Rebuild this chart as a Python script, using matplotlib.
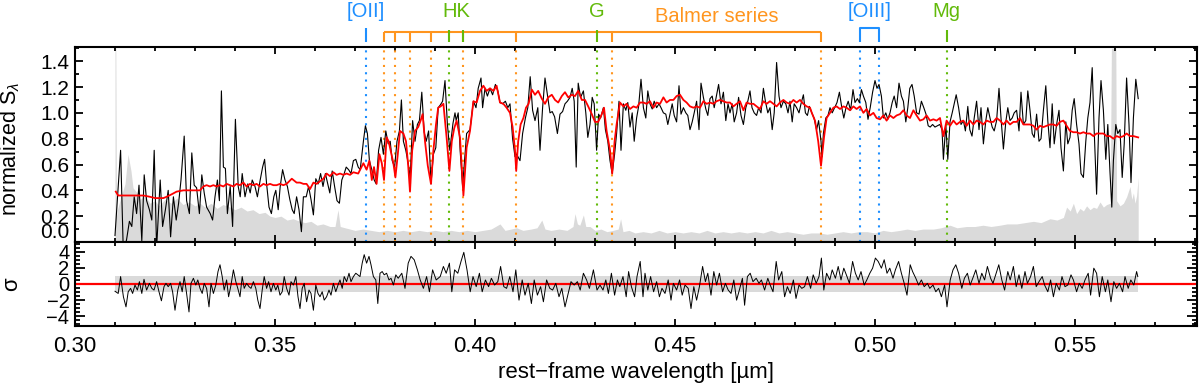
import matplotlib
matplotlib.use('Agg')
import numpy as np
import matplotlib.pyplot as plt
import matplotlib.transforms as mtransforms
from matplotlib.ticker import MultipleLocator, FormatStrFormatter

# observed spectrum, rest-frame wavelength [nm] / normalized flux
spec_wl = [310.0, 311.4, 312.1, 312.9, 313.6, 314.2, 314.8, 315.4, 316.0, 316.7, 317.3, 317.9, 318.6, 319.2, 319.8,
           320.4, 321.3, 321.9, 322.6, 323.3, 323.9, 324.6, 325.3, 325.9, 326.5, 327.3, 327.9, 328.6, 329.2, 329.8,
           330.4, 331.1, 331.7, 332.3, 332.9, 333.8, 334.4, 335.0, 335.6, 336.1, 336.6, 337.1, 337.6, 338.1, 338.8,
           339.4, 340.1, 340.8, 341.3, 341.8, 342.5, 343.2, 343.8, 344.3, 345.0, 345.6, 346.3, 346.9, 347.4, 347.9,
           348.5, 349.1, 349.7, 350.2, 350.8, 351.3, 351.9, 352.5, 353.1, 353.7, 354.3, 354.8, 355.4, 356.0, 356.6,
           357.1, 357.8, 358.4, 359.0, 359.6, 360.2, 360.8, 361.4, 362.0, 362.6, 363.2, 363.7, 364.3, 364.9, 365.5,
           366.1, 366.7, 367.3, 367.8, 368.4, 369.0, 369.6, 370.2, 370.8, 371.3, 372.1, 372.6, 373.1, 373.6, 374.2,
           374.8, 375.3, 375.9, 376.5, 377.1, 377.7, 378.3, 378.8, 379.3, 379.9, 380.5, 381.1, 381.6, 382.1, 382.7,
           383.3, 383.8, 384.4, 385.0, 385.6, 386.1, 386.7, 387.3, 387.8, 388.4, 389.0, 389.6, 390.2, 390.8, 391.3,
           391.9, 392.5, 393.1, 393.7, 394.5, 395.0, 395.3, 395.8, 396.3, 396.9, 397.9, 398.75, 399.6, 400.25, 400.8,
           401.5, 401.9, 402.5, 403.1, 403.75, 404.4, 405.1, 405.7, 406.25, 406.9, 407.6, 408.2, 408.75, 409.4, 410.0,
           410.4, 411.25, 411.9, 412.6, 413.2, 413.8, 414.4, 415.0, 415.7, 416.25, 416.9, 417.5, 418.1, 418.75, 419.3,
           419.9, 420.6, 421.25, 421.9, 422.5, 423.1, 423.75, 424.3, 424.8, 425.3, 425.8, 426.4, 427.1, 427.7, 428.2,
           428.75, 429.3, 429.8, 430.4, 430.9, 431.4, 432.1, 432.6, 433.2, 433.75, 434.3, 434.9, 435.4, 436.0, 436.5,
           437.1, 437.7, 438.2, 438.75, 439.3, 439.8, 440.4, 440.9, 441.5, 442.1, 442.7, 443.2, 443.75, 444.3, 444.8,
           445.4, 446.0, 446.5, 447.1, 447.7, 448.2, 448.75, 449.3, 449.8, 450.4, 451.0, 451.5, 452.1, 452.7, 453.2,
           453.75, 454.3, 454.8, 455.4, 456.0, 456.5, 457.1, 457.7, 458.2, 458.75, 459.3, 459.8, 460.4, 460.9, 461.5,
           462.1, 462.7, 463.25, 463.75, 464.3, 464.8, 465.4, 465.9, 466.5, 467.1, 467.7, 468.2, 468.75, 469.25, 469.8,
           470.4, 470.9, 471.5, 472.1, 472.6, 473.2, 473.75, 474.3, 474.8, 475.4, 476.0, 476.5, 477.1, 477.7, 478.25,
           478.75, 479.3, 479.8, 480.4, 481.0, 481.5, 482.1, 482.6, 483.1, 483.6, 484.2, 484.75, 485.4, 485.9, 486.5,
           486.75, 487.1, 487.7, 488.25, 488.75, 489.3, 489.9, 490.5, 491.1, 491.7, 492.2, 492.75, 493.3, 493.9, 494.5,
           495.0, 495.6, 496.1, 496.6, 497.1, 497.7, 498.25, 498.8, 499.4, 500.0, 500.5, 501.0, 501.6, 502.1, 502.7,
           503.2, 503.75, 504.3, 504.8, 505.4, 506.0, 506.6, 507.1, 507.7, 508.2, 508.7, 509.25, 509.8, 510.4, 511.0,
           511.6, 512.2, 512.75, 513.3, 513.8, 514.4, 515.0, 515.6, 516.2, 516.75, 517.1, 517.7, 518.2, 518.75, 519.3,
           519.8, 520.3, 520.9, 521.5, 522.1, 522.6, 523.2, 523.7, 524.25, 524.8, 525.4, 526.0, 526.5, 527.1, 527.7,
           528.2, 528.75, 529.3, 529.8, 530.4, 531.0, 531.5, 532.1, 532.7, 533.2, 533.75, 534.3, 534.8, 535.4, 536.0,
           536.5, 537.1, 537.7, 538.2, 538.75, 539.3, 539.8, 540.4, 541.0, 541.5, 542.1, 542.7, 543.2, 543.75, 544.3,
           544.8, 545.4, 546.0, 546.5, 547.1, 547.7, 548.2, 548.75, 549.3, 549.8, 550.4, 551.0, 551.5, 552.1, 552.7,
           553.2, 553.75, 554.3, 554.8, 555.4, 556.0, 556.5, 557.1, 557.7, 558.2, 558.75, 559.2, 559.6, 560.2, 560.7,
           561.25, 561.8, 562.3, 562.9, 563.5, 564.0, 564.6, 565.2, 565.8]
spec_flux = [0.05, 0.71, -0.10, 0.02, 0.16, 0.12, 0.35, 0.22, 0.44, 0.01, 0.52, 0.32, 0.25, 0.17, 0.71,
             -0.05, 0.48, 0.12, 0.25, 0.40, 0.04, 0.35, 0.17, 0.30, 0.48, 0.82, 0.32, 0.22, 0.69, 0.44,
             0.42, 0.22, 0.52, 0.38, 0.27, 0.22, 0.17, 0.35, 0.48, 0.32, 1.17, 0.58, 0.57, 0.22, 0.43,
             0.12, 0.95, 0.43, 0.35, 0.53, 0.35, 0.45, 0.38, 0.48, 0.43, 0.35, 0.48, 0.58, 0.64, 0.45,
             0.27, 0.22, 0.35, 0.40, 0.25, 0.43, 0.56, 0.48, 0.43, 0.33, 0.25, 0.22, 0.35, 0.25, 0.08,
             0.35, 0.35, 0.43, 0.33, 0.21, 0.49, 0.45, 0.53, 0.43, 0.53, 0.45, 0.38, 0.55, 0.43, 0.32,
             0.30, 0.48, 0.53, 0.58, 0.56, 0.53, 0.63, 0.64, 0.58, 0.56, 0.78, 0.90, 0.84, 0.63, 0.56,
             0.48, 0.45, 0.71, 0.81, 0.68, 0.86, 0.76, 0.78, 0.63, 0.58, 0.78, 0.86, 1.10, 0.78, 0.71,
             0.61, 0.50, 0.94, 0.78, 0.91, 0.94, 1.16, 0.85, 0.78, 0.86, 0.45, 0.68, 0.73, 1.04, 1.06,
             1.09, 1.25, 0.91, 0.71, 0.92, 1.00, 0.94, 1.00, 0.70, 0.43, 0.84, 0.87, 1.09, 1.04, 1.19,
             1.27, 1.04, 1.19, 1.13, 1.19, 1.14, 1.22, 1.17, 1.08, 1.07, 1.09, 1.04, 1.07, 0.80, 0.66,
             0.68, 0.63, 0.84, 0.96, 1.04, 1.28, 1.02, 0.94, 1.04, 0.71, 1.04, 1.27, 1.14, 1.00, 1.01,
             0.97, 0.84, 0.99, 1.01, 1.07, 1.09, 1.12, 1.19, 1.09, 0.58, 1.23, 1.12, 1.17, 1.00, 0.81,
             0.91, 1.12, 1.07, 0.71, 0.99, 0.96, 1.04, 0.87, 0.78, 0.63, 0.53, 0.68, 0.84, 1.09, 0.71,
             1.07, 1.02, 1.08, 0.89, 1.00, 0.78, 0.96, 1.05, 1.26, 1.04, 0.96, 1.17, 1.07, 1.03, 1.09,
             1.04, 1.07, 1.04, 1.00, 0.99, 0.91, 0.99, 1.07, 0.98, 0.93, 1.21, 0.99, 1.04, 1.00, 0.98,
             0.87, 0.93, 1.00, 1.09, 0.87, 1.23, 1.12, 1.03, 0.98, 1.11, 1.13, 1.04, 1.14, 1.22, 1.07,
             1.16, 0.94, 1.07, 1.00, 1.07, 0.93, 1.00, 1.12, 0.98, 0.91, 1.04, 1.09, 1.17, 1.04, 1.00,
             0.98, 1.04, 1.00, 1.19, 1.09, 1.00, 1.04, 0.87, 1.00, 1.39, 1.13, 1.04, 1.09, 1.07, 1.00,
             1.09, 0.93, 1.07, 1.04, 1.00, 1.07, 1.14, 1.00, 0.98, 1.05, 1.00, 0.96, 0.87, 0.94, 0.78,
             0.66, 0.84, 0.96, 0.98, 1.04, 1.00, 1.04, 1.08, 1.16, 1.04, 0.96, 1.04, 1.09, 1.02, 1.18,
             1.08, 1.11, 1.08, 1.18, 1.13, 1.08, 0.95, 1.04, 1.16, 1.25, 1.19, 1.22, 1.13, 0.96, 1.00,
             0.95, 1.00, 1.08, 1.13, 1.04, 1.23, 1.13, 1.09, 0.93, 1.04, 1.19, 1.22, 1.13, 1.00, 0.99,
             1.09, 1.04, 0.99, 0.90, 0.89, 0.91, 0.89, 0.90, 0.91, 0.87, 0.64, 0.91, 0.64, 0.93, 1.00,
             1.07, 1.14, 1.04, 0.91, 0.94, 0.86, 1.05, 0.87, 0.82, 0.96, 1.09, 0.87, 1.04, 0.76, 0.94,
             1.04, 0.96, 0.89, 0.86, 0.94, 1.19, 0.96, 0.72, 0.93, 1.04, 0.94, 0.96, 1.00, 1.02, 0.86,
             1.16, 0.91, 0.94, 1.17, 1.02, 0.84, 0.81, 0.99, 0.78, 0.80, 1.02, 1.21, 0.94, 0.73, 1.07,
             0.76, 0.91, 1.02, 0.73, 0.55, 0.93, 0.76, 0.81, 1.02, 1.11, 0.91, 0.76, 0.53, 0.50, 0.78,
             0.96, 1.08, 1.35, 0.86, 0.37, 0.96, 1.25, 1.02, 0.64, 0.91, 0.54, 0.27, 0.63, 0.91, 0.84,
             0.87, 0.50, 0.76, 1.27, 0.91, 0.46, 0.96, 1.26, 1.11]

# best-fit model
model_wl = [310.2, 310.8, 312.9, 317.1, 318.75, 320.0, 322.1, 322.9, 324.2, 325.4, 327.1, 329.6, 331.25, 332.1,
            332.9, 333.75, 334.6, 335.4, 336.25, 337.1, 337.9, 338.75, 339.6, 340.4, 341.25, 342.1, 342.9, 343.75,
            344.6, 345.4, 346.25, 347.1, 347.9, 348.75, 349.6, 350.4, 351.25, 352.1, 352.9, 354.2, 355.4, 356.25,
            357.1, 357.9, 358.75, 359.6, 360.4, 362.1, 362.9, 363.75, 364.6, 365.4, 366.25, 367.1, 367.9, 368.75,
            369.6, 370.8, 372.1, 372.9, 373.6, 374.2, 374.75, 375.4, 376.1, 376.7, 377.25, 377.9, 378.4, 378.9,
            379.6, 380.1, 380.7, 381.25, 382.1, 382.75, 383.3, 383.75, 384.3, 385.0, 385.8, 386.4, 386.9, 387.5,
            388.2, 389.0, 389.6, 390.25, 390.8, 391.4, 392.1, 392.9, 393.6, 394.2, 394.8, 395.4, 396.25, 397.1,
            397.9, 398.75, 399.6, 400.4, 401.25, 402.1, 402.9, 403.75, 404.6, 405.4, 406.25, 407.1, 407.9, 408.75,
            409.4, 410.0, 410.3, 410.8, 411.4, 412.1, 412.75, 413.4, 414.2, 415.0, 415.8, 416.7, 417.5, 418.3,
            419.2, 420.0, 420.8, 421.7, 422.5, 423.3, 424.2, 425.0, 425.8, 426.7, 427.5, 428.3, 429.2, 430.0,
            430.8, 431.7, 432.25, 432.9, 433.75, 434.3, 434.9, 435.4, 436.25, 437.1, 437.9, 438.75, 439.6, 440.4,
            441.25, 442.1, 442.9, 443.75, 444.6, 445.4, 446.25, 447.1, 447.9, 448.75, 449.6, 450.4, 451.25, 452.1,
            452.9, 453.75, 454.6, 455.4, 456.25, 457.1, 457.9, 458.75, 459.6, 460.4, 461.25, 462.1, 462.9, 463.75,
            464.6, 465.4, 466.25, 467.1, 467.9, 468.75, 469.6, 470.4, 471.25, 472.1, 472.9, 473.75, 474.6, 475.4,
            476.25, 477.1, 477.9, 478.75, 479.6, 480.4, 481.25, 482.1, 482.9, 483.75, 484.2, 485.0, 485.8, 486.5,
            487.25, 487.9, 488.75, 489.6, 490.4, 491.25, 492.1, 492.9, 493.75, 494.6, 495.4, 496.25, 497.1, 497.9,
            498.75, 499.6, 500.4, 501.25, 502.1, 502.9, 503.75, 504.6, 505.4, 506.25, 507.1, 507.9, 508.75, 509.6,
            510.4, 511.25, 512.1, 512.9, 513.75, 514.6, 515.4, 516.25, 517.1, 517.9, 518.75, 519.6, 520.4, 521.25,
            522.1, 522.9, 523.75, 524.6, 525.4, 526.25, 527.1, 527.9, 528.75, 529.6, 530.4, 531.25, 532.1, 532.9,
            533.75, 534.6, 535.4, 536.25, 537.1, 537.9, 538.75, 539.6, 540.4, 541.25, 542.1, 542.9, 543.75, 544.6,
            545.4, 546.25, 547.1, 547.9, 548.75, 549.6, 550.4, 551.25, 552.1, 552.9, 553.75, 554.6, 555.4, 556.25,
            557.1, 557.9, 558.75, 559.6, 560.4, 561.25, 562.1, 562.9, 563.75, 564.6, 565.8]
model_flux = [0.39, 0.36, 0.36, 0.36, 0.35, 0.34, 0.34, 0.35, 0.37, 0.39, 0.40, 0.40, 0.40, 0.43,
              0.44, 0.43, 0.44, 0.43, 0.44, 0.43, 0.45, 0.44, 0.43, 0.45, 0.44, 0.46, 0.43, 0.45,
              0.44, 0.45, 0.43, 0.45, 0.44, 0.45, 0.44, 0.44, 0.45, 0.44, 0.45, 0.49, 0.46, 0.46,
              0.45, 0.45, 0.41, 0.46, 0.45, 0.49, 0.53, 0.51, 0.54, 0.52, 0.53, 0.52, 0.53, 0.52,
              0.54, 0.53, 0.61, 0.56, 0.63, 0.48, 0.58, 0.45, 0.68, 0.61, 0.48, 0.81, 0.78, 0.71,
              0.61, 0.50, 0.68, 0.86, 0.84, 0.78, 0.59, 0.39, 0.71, 0.86, 0.89, 0.94, 0.99, 0.78,
              0.59, 0.45, 0.71, 0.91, 1.04, 1.05, 1.07, 0.81, 0.55, 0.78, 0.88, 0.94, 0.81, 0.36,
              0.73, 0.86, 1.09, 1.08, 1.17, 1.21, 1.17, 1.19, 1.17, 1.21, 1.08, 1.07, 1.04, 1.00,
              0.89, 0.71, 0.55, 0.78, 0.91, 0.96, 1.04, 1.07, 1.18, 1.14, 1.17, 1.11, 1.07, 1.12,
              1.14, 1.10, 1.08, 1.13, 1.16, 1.12, 1.14, 1.13, 1.17, 1.10, 1.10, 1.05, 0.99, 0.93,
              0.93, 0.99, 1.04, 0.86, 0.71, 0.53, 0.78, 0.91, 1.08, 1.05, 1.07, 1.03, 1.05, 1.04,
              1.08, 1.08, 1.07, 1.09, 1.04, 1.08, 1.07, 1.12, 1.08, 1.10, 1.10, 1.13, 1.14, 1.10,
              1.08, 1.05, 1.04, 1.05, 1.04, 1.09, 1.07, 1.08, 1.07, 1.09, 1.10, 1.09, 1.08, 1.08,
              1.05, 1.07, 1.09, 1.02, 1.08, 1.07, 1.07, 1.05, 1.03, 1.09, 1.07, 1.09, 1.07, 1.05,
              1.08, 1.10, 1.08, 1.07, 1.10, 1.08, 1.10, 1.07, 1.05, 1.04, 1.00, 0.94, 0.78, 0.59,
              0.81, 0.96, 1.00, 1.04, 1.05, 1.03, 1.05, 1.04, 1.02, 1.05, 1.03, 1.05, 1.00, 1.03,
              0.98, 1.00, 0.96, 0.95, 0.98, 0.94, 0.98, 0.96, 0.98, 0.99, 1.02, 0.98, 0.96, 1.02,
              0.98, 0.94, 0.95, 0.98, 0.94, 0.95, 0.94, 0.96, 0.82, 0.94, 0.90, 0.94, 0.91, 0.93,
              0.94, 0.90, 0.94, 0.91, 0.94, 0.93, 0.91, 0.94, 0.93, 0.93, 0.96, 0.94, 0.91, 0.94,
              0.91, 0.93, 0.93, 0.96, 0.91, 0.91, 0.91, 0.90, 0.87, 0.90, 0.89, 0.90, 0.91, 0.91,
              0.90, 0.93, 0.94, 0.90, 0.86, 0.85, 0.85, 0.84, 0.85, 0.84, 0.84, 0.82, 0.84, 0.84,
              0.84, 0.82, 0.82, 0.80, 0.82, 0.81, 0.82, 0.84, 0.82, 0.82, 0.81]

# 1-sigma noise (grey)
err_wl = [310.0, 310.2, 310.4, 310.6, 311.5, 312.5, 313.25, 314.0, 314.5, 315.5, 316.25, 317.5, 318.75, 320.0,
          321.0, 322.5, 324.0, 325.5, 327.0, 328.5, 330.0, 331.25, 332.5, 334.0, 335.5, 337.0, 338.75, 340.0,
          341.5, 343.0, 344.5, 346.0, 347.5, 348.75, 350.0, 351.5, 353.0, 354.5, 356.25, 357.5, 359.0, 360.5,
          362.0, 363.75, 365.0, 365.75, 366.3, 367.5, 368.75, 370.0, 372.0, 374.0, 376.0, 378.0, 380.0, 382.0,
          384.0, 386.0, 388.0, 390.0, 392.0, 394.0, 396.0, 398.0, 400.0, 402.0, 404.0, 406.25, 407.5, 409.0,
          410.4, 412.0, 414.0, 415.5, 416.7, 417.5, 419.0, 421.0, 423.0, 424.5, 425.0, 425.6, 426.2, 427.1,
          427.7, 428.75, 430.0, 431.5, 433.0, 434.5, 435.8, 436.4, 437.0, 438.5, 440.0, 442.0, 444.0, 446.0,
          448.0, 450.0, 452.0, 454.0, 456.0, 458.0, 460.0, 462.0, 464.0, 466.0, 468.0, 470.0, 472.0, 474.0,
          476.0, 478.0, 480.0, 482.0, 484.0, 486.0, 488.0, 490.0, 492.0, 494.0, 496.0, 498.0, 500.0, 502.0,
          504.0, 506.25, 508.0, 510.0, 512.0, 514.6, 516.5, 518.75, 520.5, 522.9, 525.0, 527.0, 529.0, 531.25,
          533.0, 535.4, 537.5, 539.6, 541.5, 543.75, 545.5, 547.1, 547.9, 548.8, 549.6, 550.4, 551.25, 552.1,
          552.9, 553.75, 554.6, 555.4, 556.25, 557.1, 557.9, 558.8, 559.1, 560.2, 560.4, 561.25, 562.1, 562.9,
          563.75, 564.2, 564.6, 565.0, 565.4, 565.8]
err_flux = [1.50, 1.50, 0.20, 0.25, 0.35, 0.45, 0.68, 0.55, 0.42, 0.38, 0.33, 0.36, 0.30, 0.32,
            0.28, 0.33, 0.30, 0.34, 0.29, 0.31, 0.28, 0.30, 0.27, 0.30, 0.26, 0.29, 0.27, 0.25,
            0.27, 0.24, 0.25, 0.22, 0.23, 0.20, 0.19, 0.20, 0.17, 0.18, 0.16, 0.15, 0.16, 0.13,
            0.14, 0.12, 0.12, 0.25, 0.12, 0.11, 0.10, 0.09, 0.10, 0.09, 0.08, 0.09, 0.08, 0.09,
            0.08, 0.09, 0.08, 0.09, 0.08, 0.09, 0.08, 0.09, 0.08, 0.09, 0.10, 0.14, 0.09, 0.10,
            0.11, 0.09, 0.10, 0.11, 0.17, 0.10, 0.09, 0.10, 0.09, 0.12, 0.22, 0.14, 0.13, 0.21,
            0.12, 0.12, 0.09, 0.10, 0.08, 0.09, 0.10, 0.18, 0.08, 0.09, 0.07, 0.08, 0.07, 0.09,
            0.07, 0.08, 0.07, 0.08, 0.07, 0.09, 0.07, 0.08, 0.07, 0.08, 0.07, 0.08, 0.07, 0.09,
            0.07, 0.08, 0.07, 0.06, 0.07, 0.07, 0.06, 0.07, 0.08, 0.07, 0.08, 0.08, 0.07, 0.09,
            0.08, 0.09, 0.10, 0.09, 0.10, 0.10, 0.11, 0.13, 0.11, 0.12, 0.12, 0.13, 0.12, 0.13,
            0.14, 0.14, 0.15, 0.16, 0.15, 0.18, 0.17, 0.19, 0.27, 0.24, 0.30, 0.22, 0.26, 0.24,
            0.28, 0.25, 0.27, 0.26, 0.31, 0.27, 0.29, 0.30, 1.50, 1.50, 0.32, 0.28, 0.30, 0.35,
            0.43, 0.33, 0.38, 0.30, 0.36, 0.50]

# residuals in units of sigma
resid_wl = [310.0, 310.8, 311.4, 312.1, 312.75, 313.3, 313.9, 314.4, 315.0, 315.6, 316.1, 316.7, 317.25, 317.9,
            318.6, 319.2, 319.75, 320.4, 321.0, 321.6, 322.25, 322.75, 323.3, 323.9, 324.4, 325.0, 325.7, 326.25,
            326.8, 327.3, 327.9, 328.5, 329.0, 329.6, 330.2, 330.7, 331.25, 331.8, 332.3, 332.9, 333.5, 334.0,
            334.6, 335.2, 335.75, 336.25, 336.8, 337.3, 337.9, 338.4, 339.0, 339.6, 340.2, 340.7, 341.25, 341.8,
            342.3, 342.9, 343.5, 344.0, 344.6, 345.2, 345.7, 346.25, 346.8, 347.3, 347.9, 348.4, 349.0, 349.6,
            350.2, 350.7, 351.25, 351.8, 352.3, 352.9, 353.5, 354.0, 354.6, 355.2, 355.75, 356.25, 356.8, 357.3,
            357.9, 358.5, 359.0, 359.6, 360.2, 360.75, 361.25, 361.8, 362.3, 362.9, 363.5, 364.0, 364.6, 365.2,
            365.75, 366.25, 366.8, 367.3, 367.9, 368.5, 369.0, 369.6, 370.2, 370.7, 371.25, 371.8, 372.3, 372.9,
            373.5, 374.0, 374.6, 375.2, 375.7, 376.25, 376.8, 377.3, 377.9, 378.5, 379.0, 379.6, 380.2, 380.8,
            381.7, 382.5, 383.3, 384.0, 384.8, 385.6, 386.3, 387.1, 387.9, 388.6, 389.4, 390.3, 391.3, 392.1,
            392.8, 393.6, 394.2, 394.9, 395.7, 396.5, 397.2, 398.0, 398.8, 399.5, 400.3, 401.1, 401.8, 402.6,
            403.4, 404.1, 404.9, 405.7, 406.4, 407.2, 407.9, 408.7, 409.5, 410.2, 411.0, 411.8, 412.5, 413.3,
            414.1, 414.8, 415.6, 416.4, 417.1, 417.9, 418.7, 419.4, 420.2, 421.0, 421.7, 422.5, 423.3, 424.0,
            424.8, 425.6, 426.3, 427.1, 427.9, 428.6, 429.6, 430.5, 431.25, 432.0, 432.7, 433.35, 434.1, 434.9,
            435.6, 436.2, 437.0, 437.8, 438.4, 439.1, 439.9, 440.5, 441.3, 442.0, 442.5, 443.2, 443.9, 444.65,
            445.4, 446.1, 446.75, 447.5, 448.3, 449.0, 449.6, 450.4, 451.15, 451.8, 452.5, 453.3, 454.0, 454.7,
            455.4, 456.1, 456.9, 457.6, 458.2, 459.0, 459.7, 460.4, 461.1, 461.9, 462.6, 463.3, 464.0, 464.7,
            465.4, 466.2, 466.85, 467.4, 468.1, 468.8, 469.5, 470.3, 471.0, 471.6, 472.4, 473.2, 473.8, 474.5,
            475.3, 475.9, 476.7, 477.4, 478.1, 478.8, 479.6, 480.25, 481.0, 481.7, 482.4, 483.1, 483.9, 484.55,
            485.3, 486.0, 486.6, 487.2, 487.9, 488.7, 489.3, 490.1, 490.8, 491.5, 492.2, 493.0, 493.6, 494.4,
            495.1, 495.8, 496.5, 497.3, 497.95, 498.7, 499.4, 500.1, 500.8, 501.6, 502.3, 503.0, 503.7, 504.5,
            505.1, 505.9, 506.6, 507.3, 508.0, 508.8, 509.4, 510.2, 510.9, 511.6, 512.3, 513.1, 513.7, 514.5,
            515.2, 515.9, 516.6, 517.4, 518.0, 518.8, 519.5, 520.2, 520.9, 521.7, 522.35, 523.1, 523.8, 524.6,
            525.2, 526.0, 526.7, 527.4, 528.1, 528.9, 529.5, 530.3, 530.95, 531.7, 532.4, 533.2, 533.8, 534.6,
            535.3, 536.0, 536.7, 537.5, 538.1, 538.9, 539.6, 540.3, 541.0, 541.8, 542.4, 543.2, 543.9, 544.6,
            545.3, 546.1, 546.75, 547.5, 548.2, 549.0, 549.6, 550.4, 551.05, 551.8, 552.5, 553.3, 553.9, 554.7,
            555.4, 556.1, 556.8, 557.6, 558.2, 559.0, 559.7, 560.4, 561.1, 561.9, 562.5, 563.3, 563.95, 564.7,
            565.4, 565.7]
resid = [-0.9, -1.17, 0.92, -1.58, -2.83, -0.96, -0.54, -1.17, -0.13, -0.75, 0.29, -1.17, 0.58, -0.75,
         0.08, -0.54, -0.75, 0.29, -0.96, -2.08, -0.33, 0.08, -0.33, 0.08, -0.96, -3.25, -0.75, 0.29,
         -0.96, 0.92, -1.17, -3.46, 0.08, 0.71, -0.13, 0.50, -0.54, -1.17, 0.08, -0.54, -2.83, 0.08,
         -1.17, -0.13, 1.54, 2.38, 0.92, -0.75, 0.50, -1.58, -0.13, 1.75, 0.29, -0.54, -1.58, 0.92,
         -0.54, 0.08, -0.33, -0.54, 0.29, -0.54, -2.00, -3.04, -0.75, 0.92, -0.54, 0.29, -0.96, 0.08,
         -0.75, -0.13, -1.38, -0.96, 0.92, -0.54, -1.38, 0.29, -0.13, 0.92, -1.58, -3.04, -0.54, 0.08,
         -2.20, -0.75, -1.17, -3.25, -0.13, -1.17, -1.58, -0.96, -2.00, -1.58, -0.75, -1.38, 0.08, -0.96,
         -0.13, 0.50, -0.54, 0.92, 0.29, 1.33, 0.29, 0.92, 1.33, 1.13, 0.92, 2.58, 3.63, 2.58,
         3.42, 2.38, 0.92, 0.50, -2.42, 1.33, 1.54, 1.13, 1.33, 0.50, 0.71, -0.13, 1.13, 0.71,
         1.33, -0.54, 2.58, 3.42, 3.00, 1.75, 0.50, -0.54, 0.92, -0.96, 1.75, 0.50, 0.92, 2.17,
         1.33, 2.58, -0.96, 1.75, 1.33, 2.79, 3.92, 1.75, -0.96, 0.92, -0.33, 1.33, -0.96, 0.50,
         -0.33, 0.71, -0.13, 0.29, 2.17, -0.33, -0.54, 0.92, -0.96, 1.75, -2.00, 0.50, -1.38, 0.08,
         -2.42, 0.50, -1.38, -0.33, -2.20, 0.50, -0.54, -0.75, 0.08, -1.58, -0.54, -2.83, -1.17, 0.29,
         -0.13, 0.29, -0.75, 1.33, 0.50, -0.54, 1.75, -0.75, -0.13, -0.75, 0.50, -1.17, 1.33, -1.38,
         0.50, -0.33, 0.92, -1.58, 1.54, -0.33, -1.58, 0.92, 2.79, -1.58, 1.33, -0.75, 0.92, -0.96,
         0.29, -1.58, -0.54, -1.17, 0.50, -2.00, 0.08, -0.75, 0.50, -1.38, -0.13, -0.54, -3.04, -0.33,
         -2.00, -0.33, 2.17, 0.29, 1.33, -1.38, 1.54, -0.13, 1.33, -0.96, 0.08, -0.75, -1.17, 0.50,
         -2.00, -0.54, 0.71, -2.63, 0.92, 1.33, 0.29, 0.71, 0.08, 0.50, -0.75, 0.71, -0.13, -0.96,
         2.79, 0.50, 1.54, -1.58, -0.33, -1.17, 0.50, -1.79, -0.13, -0.54, -0.33, 0.92, -0.54, 1.13,
         0.08, 0.92, 3.21, -0.75, 1.33, 0.50, 1.75, 0.71, 2.17, 0.50, 1.96, 0.92, 0.08, 2.79,
         1.33, 0.50, 1.54, -0.13, 0.50, 1.33, 1.96, 3.21, 2.79, 1.96, 3.00, 1.33, 1.96, 0.71,
         1.75, 2.79, 1.33, 0.08, -1.38, 2.38, 1.54, 0.71, -0.13, 0.50, -0.33, 0.08, -0.54, -0.13,
         -0.96, -0.54, -1.58, -0.13, -2.83, 0.50, 1.75, 2.38, 1.33, -0.54, 0.71, 1.33, -0.13, 0.92,
         1.75, 0.08, 1.33, 0.50, 2.17, 0.71, 0.08, 1.33, 2.38, 0.50, -0.75, 1.54, 0.50, 2.17,
         -0.33, 1.13, -0.54, 1.54, 0.08, 0.92, 2.17, -0.33, 0.29, 0.92, -0.13, -0.96, 0.50, -1.58,
         0.08, -0.75, 0.92, -0.33, -0.13, 1.13, 0.50, -0.96, 0.08, -0.54, 0.50, 1.33, -1.38, 1.96,
         1.33, -1.58, 0.92, -0.96, 0.50, -2.20, 0.29, -0.54, 0.08, -0.96, 0.92, -0.54, 0.50, -0.13,
         1.54, 0.92]
band = 1.0

# spectral features [nm]
oii_wl = [372.75]
balmer_wl = [377.25, 379.9, 383.7, 389.0, 397.0, 410.3, 434.3, 486.5]
hk_wl = [393.5, 397.0]
g_wl = [430.5]
oiii_wl = [496.25, 501.0]
mg_wl = [517.9]

BLUE = '#1E8FFF'
ORANGE = '#FF951E'
GREEN = '#62BA0A'
GREY = '#DADADA'

plt.rcParams['font.family'] = ['Liberation Sans', 'DejaVu Sans']
plt.rcParams['mathtext.fontset'] = 'custom'
plt.rcParams['mathtext.rm'] = 'Liberation Sans'
plt.rcParams['mathtext.it'] = 'Liberation Sans:italic'

um = lambda v: np.asarray(v) / 1000.0

fig = plt.figure(figsize=(12, 3.89), dpi=100)
ax = fig.add_axes([0.0625, 0.3779, 0.935, 0.5013])
ax2 = fig.add_axes([0.0625, 0.162, 0.935, 0.2159], sharex=ax)

# --- top panel
ax.fill_between(um(err_wl), 0, err_flux, color=GREY, lw=0, zorder=1)
dots = (0, (1, 2.5))
for w in oii_wl + oiii_wl:
    ax.axvline(w / 1000, color=BLUE, ls=dots, lw=1.5, zorder=2)
for w in hk_wl[:1] + g_wl + mg_wl:
    ax.axvline(w / 1000, color=GREEN, ls=dots, lw=1.5, zorder=2)
for w in balmer_wl:
    ax.axvline(w / 1000, color=ORANGE, ls=dots, lw=1.5, zorder=2)
ax.plot(um(spec_wl), spec_flux, color='black', lw=0.8, zorder=3)
ax.plot(um(model_wl), model_flux, color='red', lw=1.3, zorder=4)

ax.set_xlim(0.30, 0.5805)
ax.set_ylim(0.0, 1.51)
ax.set_ylabel(r'normalized S$_\lambda$', fontsize=15.5)
ax.yaxis.set_label_coords(-0.047, 0.48)

# line markers above the panel
tr = mtransforms.blended_transform_factory(ax.transData, ax.transAxes)
lo, top_b, top_g, top_o = 1.026, 1.077, 1.087, 1.097
kw = dict(transform=tr, clip_on=False, lw=1.5, solid_capstyle='butt')
b = um(balmer_wl)
ax.plot([b[0], b[-1]], [top_b, top_b], color=ORANGE, **kw)
for w in b:
    ax.plot([w, w], [lo, top_b], color=ORANGE, **kw)
for w in um(hk_wl + g_wl + mg_wl):
    ax.plot([w, w], [lo, top_g], color=GREEN, **kw)
for w in um(oii_wl):
    ax.plot([w, w], [lo, top_o], color=BLUE, **kw)
o3 = um(oiii_wl)
ax.plot([o3[0], o3[0], o3[1], o3[1]], [lo, top_o, top_o, lo], color=BLUE, **kw)

tkw = dict(transform=tr, ha='center', va='center', fontsize=14.5)
ax.text(um(oii_wl)[0], 1.18, '[OII]', color=BLUE, **tkw)
ax.text(np.mean(um(hk_wl)), 1.18, 'HK', color=GREEN, **tkw)
ax.text(um(g_wl)[0], 1.18, 'G', color=GREEN, **tkw)
ax.text(0.4605, 1.155, 'Balmer series', color=ORANGE, **tkw)
ax.text(np.mean(o3), 1.18, '[OIII]', color=BLUE, **tkw)
ax.text(um(mg_wl)[0], 1.18, 'Mg', color=GREEN, **tkw)

# --- residual panel
ax2.fill_between([um(resid_wl)[0], um(resid_wl)[-1]], -band, band, color=GREY, lw=0, zorder=1)
ax2.axhline(0, color='red', lw=1.6, zorder=2)
ax2.plot(um(resid_wl), resid, color='black', lw=0.7, zorder=3)
ax2.set_ylim(-5.2, 5.2)
ax2.set_ylabel('σ', fontsize=16)
ax2.yaxis.set_label_coords(-0.047, 0.5)
ax2.set_xlabel('rest−frame wavelength [µm]', fontsize=16, labelpad=4)

for a in (ax, ax2):
    for s in a.spines.values():
        s.set_linewidth(1.5)
    a.xaxis.set_major_locator(MultipleLocator(0.05))
    a.xaxis.set_minor_locator(MultipleLocator(0.01))
    a.tick_params(axis='x', which='both', direction='in', top=True, bottom=True, width=1.3)
    a.tick_params(axis='x', which='major', length=5)
    a.tick_params(axis='x', which='minor', length=3)
    a.tick_params(axis='y', which='both', direction='in', left=True, right=True, width=1.3)

ax.yaxis.set_major_locator(MultipleLocator(0.2))
ax.yaxis.set_minor_locator(MultipleLocator(0.1))
ax.yaxis.set_major_formatter(FormatStrFormatter('%.1f'))
ax.tick_params(axis='y', which='major', length=6, labelsize=15, pad=4)
ax.tick_params(axis='y', which='minor', length=3)
ax.tick_params(axis='x', labelbottom=False)

ax2.yaxis.set_major_locator(MultipleLocator(2))
ax2.yaxis.set_minor_locator(MultipleLocator(0.5))
ax2.tick_params(axis='y', which='major', length=7.5, labelsize=14.5, pad=4)
ax2.tick_params(axis='y', which='minor', length=3.5)
ax2.xaxis.set_major_formatter(FormatStrFormatter('%.2f'))
ax2.tick_params(axis='x', labelsize=16, pad=7)

# lift the "0.0" label so it sits on the panel edge like the original
fig.canvas.draw()
for t in ax.yaxis.get_major_ticks():
    if abs(t.get_loc()) < 1e-9:
        t.label1.set_verticalalignment('bottom')

fig.savefig('out.png', dpi=100)
